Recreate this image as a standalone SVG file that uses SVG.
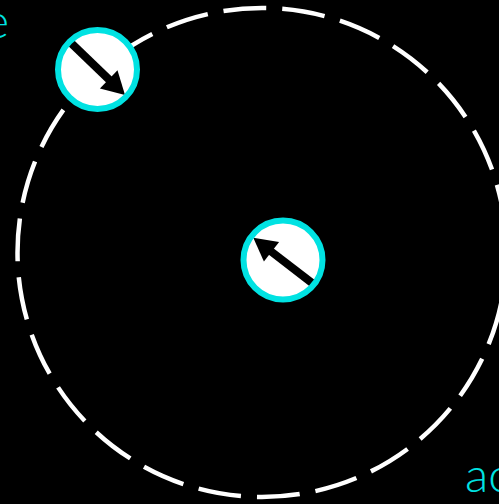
<svg xmlns="http://www.w3.org/2000/svg" width="499" height="504" viewBox="0 0 499 504">
<style>
.orbit{fill:none;stroke:#fff;stroke-width:4.5;stroke-dasharray:43 16;stroke-dashoffset:8}
.disc{fill:#fff}
.ring{fill:none;stroke:#00e2e2;stroke-width:6}
.shaft{stroke:#000;stroke-width:8;fill:none}
.head{fill:#000}
.lbl{fill:#00e2e2;font-family:Lato,"Liberation Sans",Arial,sans-serif;font-weight:300;font-size:48px}
</style>
<rect width="499" height="504" fill="#000"/>
<g id="connectors">
<circle class="orbit" cx="262" cy="252.5" r="244.5"/>
</g>
<g id="node-satellite">
<circle class="disc" cx="97.5" cy="69.5" r="39.5"/>
<line class="shaft" x1="70" y1="42" x2="110" y2="80.5"/>
<polygon class="head" points="125,95 99.9,88.4 117.5,70.2"/>
<circle class="ring" cx="97.5" cy="69.5" r="39.5"/>
</g>
<g id="node-center">
<circle class="disc" cx="283" cy="260" r="39.5"/>
<line class="shaft" x1="314" y1="284.5" x2="270" y2="250.6"/>
<polygon class="head" points="253.3,237.7 279.1,242 263.9,261.6"/>
<circle class="ring" cx="283" cy="260" r="39.5"/>
</g>
<text class="lbl" x="9" y="38" text-anchor="end">e</text>
<text class="lbl" x="465" y="492">ac</text>
</svg>
